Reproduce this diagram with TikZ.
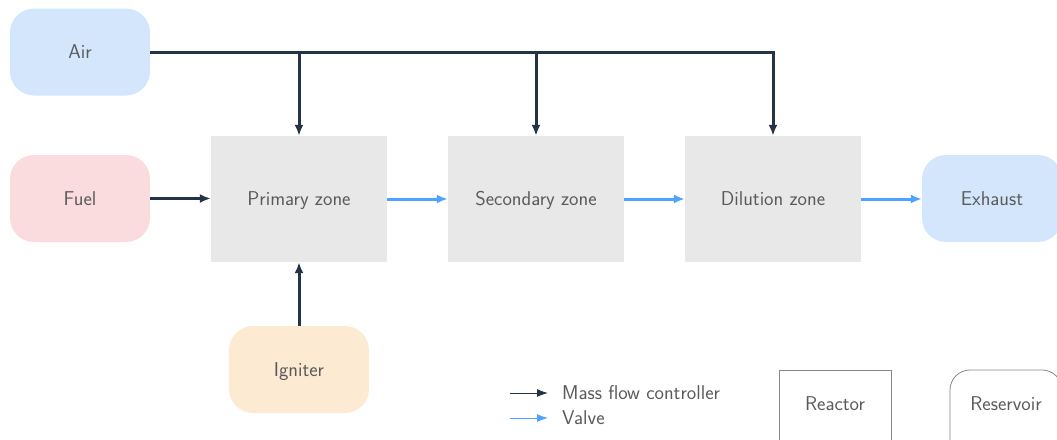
\documentclass[tikz,border=0pt]{standalone}
\usetikzlibrary{arrows.meta}
\definecolor{airblue}{HTML}{D4E6FB}
\definecolor{fuelpink}{HTML}{FADBDE}
\definecolor{ignorange}{HTML}{FDEAD3}
\definecolor{zonegray}{HTML}{E8E8E8}
\definecolor{mfcdark}{HTML}{253347}
\definecolor{valveblue}{HTML}{4DA3FF}
\definecolor{txtgray}{HTML}{5A5A5A}
\definecolor{edgegray}{HTML}{888888}
\tikzset{
  every node/.style={font=\sffamily\fontsize{20}{24}\selectfont, text=txtgray},
  boxtext/.style={text height=15pt, text depth=2pt},
  reservoirbox/.style={boxtext, rounded corners=24pt, minimum width=140pt, minimum height=87pt, inner sep=0pt},
  reactorbox/.style={boxtext, fill=zonegray, minimum width=176pt, minimum height=126pt, inner sep=0pt},
  mfc/.style={draw=mfcdark, line width=3pt, -{Latex[length=11pt,width=9pt]}},
  valve/.style={draw=valveblue, line width=3pt, -{Latex[length=11pt,width=9pt]}},
  legmfc/.style={draw=mfcdark, line width=1pt, -{Latex[length=11pt,width=8pt]}},
  legvalve/.style={draw=valveblue, line width=1pt, -{Latex[length=11pt,width=8pt]}},
}
\begin{document}
\begin{tikzpicture}[x=1pt,y=-1pt]
\useasboundingbox (0,0) rectangle (1057,439);
% reservoirs
\node[reservoirbox, fill=airblue] (air) at (80,52) {Air};
\node[reservoirbox, fill=fuelpink] (fuel) at (80,198.5) {Fuel};
\node[reservoirbox, fill=airblue] (exhaust) at (992,198.5) {Exhaust};
\node[reservoirbox, fill=ignorange] (igniter) at (299,369.5) {Igniter};
% reactors
\node[reactorbox] (primary) at (299,199) {Primary zone};
\node[reactorbox] (secondary) at (536,199) {Secondary zone};
\node[reactorbox] (dilution) at (773,199) {Dilution zone};
% air manifold
\draw[mfc] (air.east) -- (dilution.north |- air.east) -- (dilution.north);
\draw[mfc] (primary.north |- air.east) -- (primary.north);
\draw[mfc] (secondary.north |- air.east) -- (secondary.north);
% fuel and igniter
\draw[mfc] (fuel.east) -- (fuel.east -| primary.west);
\draw[mfc] (igniter.north) -- (primary.south);
% valves
\draw[valve] (primary.east) -- (secondary.west);
\draw[valve] (secondary.east) -- (dilution.west);
\draw[valve] (dilution.east) -- (exhaust.west |- dilution.east);
% legend
\coordinate (m1) at (510,393);
\coordinate (m2) at (548,393);
\coordinate (v1) at (510,418);
\coordinate (v2) at (548,418);
\draw[legmfc] (m1) -- (m2);
\draw[legvalve] (v1) -- (v2);
\node[anchor=west, inner sep=0pt] (lmfc) at (562,393) {Mass flow controller};
\node[anchor=west, inner sep=0pt] (lvalve) at (562,418) {Valve};
\node[draw=edgegray, line width=0.8pt, minimum width=112pt, minimum height=90pt, inner sep=0pt] (lreactor) at (835,415) {};
\node[boxtext] (lreactortxt) at (835,404) {Reactor};
\node[draw=edgegray, line width=0.8pt, rounded corners=20pt, minimum width=112pt, minimum height=90pt, inner sep=0pt] (lreservoir) at (1006,415) {};
\node[boxtext] (lreservoirtxt) at (1006,404) {Reservoir};
\end{tikzpicture}
\end{document}
